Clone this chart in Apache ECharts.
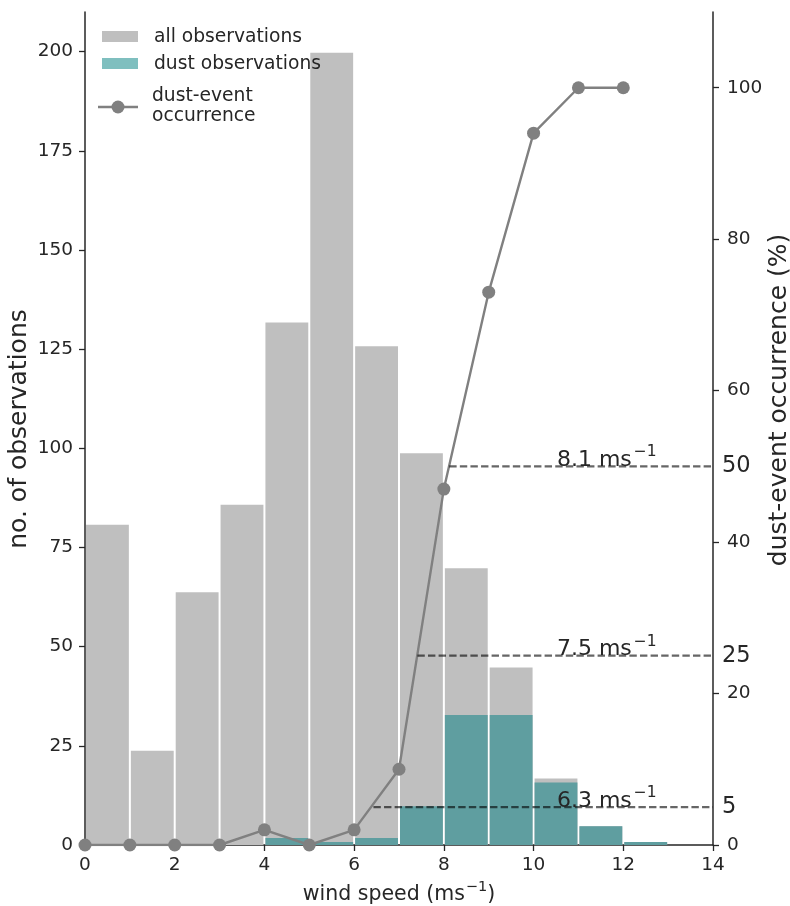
<!DOCTYPE html>
<html>
<head>
<meta charset="utf-8">
<script src="https://cdn.jsdelivr.net/npm/echarts@6/dist/echarts.min.js"></script>
<style>html,body{margin:0;padding:0;background:#fff}#c{width:790px;height:906px}</style>
</head>
<body>
<div id="c"></div>
<script>
// ---- data ----
const binStarts = [0, 1, 2, 3, 4, 5, 6, 7, 8, 9, 10, 11, 12];
const binWidth = 1;
const allObs = [81, 24, 64, 86, 132, 200, 126, 99, 70, 45, 17, 5, 1];
const dustObs = [0, 0, 0, 0, 2, 1, 2, 10, 33, 33, 16, 5, 1];
const windSpeed = [0, 1, 2, 3, 4, 5, 6, 7, 8, 9, 10, 11, 12];
const occurrence = [0, 0, 0, 0, 2, 0, 2, 10, 47, 73, 94, 100, 100];
const thresholdLevels = [50, 25, 5];
const thresholdStarts = [8.12, 7.41, 6.43];
const thresholdValues = ['8.1', '7.5', '6.3'];
const labelX = 10.52;
const xTicks = [0, 2, 4, 6, 8, 10, 12, 14];
const leftTicks = [0, 25, 50, 75, 100, 125, 150, 175, 200];
const rightTicks = [0, 20, 40, 60, 80, 100];
const rightBigTicks = [5, 25, 50];

const FONT = 'DejaVu Sans';
const TXT = '#262626';
const GRAY = '#bfbfbf';
const TEAL = '#5f9ea0';
const LINE = '#808080';
const TICK_FS = 18.5;
const TITLE_FS = 20.5;
const YTITLE_FS = 25;

function barRender(color) {
  return function (params, api) {
    const x0 = api.value(0), x1 = api.value(1), y = api.value(2);
    if (!y) return null;
    const p0 = api.coord([x0, 0]);
    const p1 = api.coord([x1, y]);
    return {
      type: 'rect',
      shape: { x: p0[0] + 1, y: p1[1] + 1, width: p1[0] - p0[0] - 2, height: p0[1] - p1[1] - 1 },
      style: { fill: color }
    };
  };
}

const allData = binStarts.map((b, i) => [b, b + binWidth, allObs[i]]);
const dustData = binStarts.map((b, i) => [b, b + binWidth, dustObs[i]]);
const occData = windSpeed.map((w, i) => [w, occurrence[i]]);

const thresholdSeries = thresholdLevels.map((lv, i) => ({
  type: 'line', yAxisIndex: 1, z: 5, silent: true, symbol: 'none',
  data: [[thresholdStarts[i], lv], [14, lv]],
  lineStyle: { color: 'rgba(0,0,0,0.6)', width: 2.2, type: [7.4, 3.2] }
}));

const supRich = {
  a: { fontFamily: FONT, fontSize: 22, color: TXT, lineHeight: 27, verticalAlign: 'bottom' },
  s: { fontFamily: FONT, fontSize: 15.5, color: TXT, lineHeight: 27, verticalAlign: 'top', padding: [0, 0, 0, 2] }
};

const labelSeries = {
  type: 'scatter', yAxisIndex: 1, z: 6, symbolSize: 0, silent: true,
  itemStyle: { opacity: 1 },
  data: thresholdLevels.map((lv, i) => ({ value: [labelX, lv], name: thresholdValues[i] })),
  label: {
    show: true, position: [0, 5], align: 'left', verticalAlign: 'bottom',
    formatter: p => '{a|' + p.name + ' ms}{s|\u22121}', rich: supRich
  }
};

const axisCommon = {
  axisLine: { show: true, lineStyle: { color: TXT, width: 1.5 } },
  axisTick: { show: true, inside: false, length: 6, lineStyle: { color: TXT, width: 1.3 } },
  splitLine: { show: false }
};

const titleRich = {
  a: { fontFamily: FONT, fontSize: TITLE_FS, color: TXT, lineHeight: 25, verticalAlign: 'bottom' },
  s: { fontFamily: FONT, fontSize: 14.5, color: TXT, lineHeight: 25, verticalAlign: 'top', padding: [0, 0, 0, 1] }
};

const LEG_FONT = '18.7px "DejaVu Sans"';
const YT_FONT = YTITLE_FS + 'px "DejaVu Sans"';

const chart = echarts.init(document.getElementById('c'), null, { renderer: 'canvas' });
chart.setOption({
  animation: false,
  backgroundColor: '#fff',
  grid: { left: 85, right: 77, top: 12, bottom: 61, outerBoundsMode: 'none', containLabel: false },
  xAxis: Object.assign({}, axisCommon, {
    type: 'value', min: 0, max: 14,
    name: '{a|wind speed (ms}{s|\u22121}{a|)}', nameLocation: 'middle', nameGap: 35,
    nameTextStyle: { rich: titleRich },
    axisTick: Object.assign({}, axisCommon.axisTick, { customValues: xTicks }),
    axisLabel: { customValues: xTicks, fontFamily: FONT, fontSize: TICK_FS, color: TXT, margin: 11 }
  }),
  yAxis: [
    Object.assign({}, axisCommon, {
      type: 'value', min: 0, max: 210, position: 'left',
      axisTick: Object.assign({}, axisCommon.axisTick, { customValues: leftTicks }),
      axisLabel: { customValues: leftTicks, fontFamily: FONT, fontSize: TICK_FS, color: TXT, margin: 12 }
    }),
    Object.assign({}, axisCommon, {
      type: 'value', min: 0, max: 110, position: 'right',
      axisTick: Object.assign({}, axisCommon.axisTick, { customValues: rightTicks }),
      axisLabel: { customValues: rightTicks, fontFamily: FONT, fontSize: TICK_FS, color: TXT, margin: 14 }
    }),
    {
      type: 'value', min: 0, max: 110, position: 'right',
      axisLine: { show: false }, axisTick: { show: false }, splitLine: { show: false },
      axisLabel: { customValues: rightBigTicks, fontFamily: FONT, fontSize: 22.5, color: TXT, margin: 9 }
    }
  ],
  series: [
    { type: 'custom', renderItem: barRender(GRAY), data: allData, z: 2, silent: true, encode: { x: [0, 1], y: 2 } },
    { type: 'custom', renderItem: barRender(TEAL), data: dustData, z: 3, silent: true, encode: { x: [0, 1], y: 2 } },
    {
      type: 'line', yAxisIndex: 1, z: 4, data: occData, symbol: 'circle', symbolSize: 13,
      itemStyle: { color: LINE }, lineStyle: { color: LINE, width: 2.4 }, silent: true
    }
  ].concat(thresholdSeries, [labelSeries]),
  graphic: {
    elements: [
      { type: 'text', z: 100, x: 19, y: 429, rotation: Math.PI / 2, style: { text: 'no. of observations', font: YT_FONT, fill: TXT, align: 'center', verticalAlign: 'middle' } },
      { type: 'text', z: 100, x: 779, y: 400, rotation: Math.PI / 2, style: { text: 'dust-event occurrence (%)', font: YT_FONT, fill: TXT, align: 'center', verticalAlign: 'middle' } },
      { type: 'rect', z: 100, shape: { x: 102, y: 31, width: 36, height: 11 }, style: { fill: GRAY } },
      { type: 'text', z: 100, x: 154, y: 37, style: { text: 'all observations', font: LEG_FONT, fill: TXT, verticalAlign: 'middle' } },
      { type: 'rect', z: 100, shape: { x: 102, y: 58, width: 36, height: 11 }, style: { fill: '#7fbfbf' } },
      { type: 'text', z: 100, x: 154, y: 64, style: { text: 'dust observations', font: LEG_FONT, fill: TXT, verticalAlign: 'middle' } },
      { type: 'line', z: 100, shape: { x1: 98, y1: 107, x2: 138, y2: 107 }, style: { stroke: LINE, lineWidth: 2.4 } },
      { type: 'circle', z: 100, shape: { cx: 118, cy: 107, r: 6.5 }, style: { fill: LINE } },
      { type: 'text', z: 100, x: 152, y: 96, style: { text: 'dust-event', font: LEG_FONT, fill: TXT, verticalAlign: 'middle' } },
      { type: 'text', z: 100, x: 152, y: 116, style: { text: 'occurrence', font: LEG_FONT, fill: TXT, verticalAlign: 'middle' } }
    ]
  }
});
</script>
</body>
</html>
